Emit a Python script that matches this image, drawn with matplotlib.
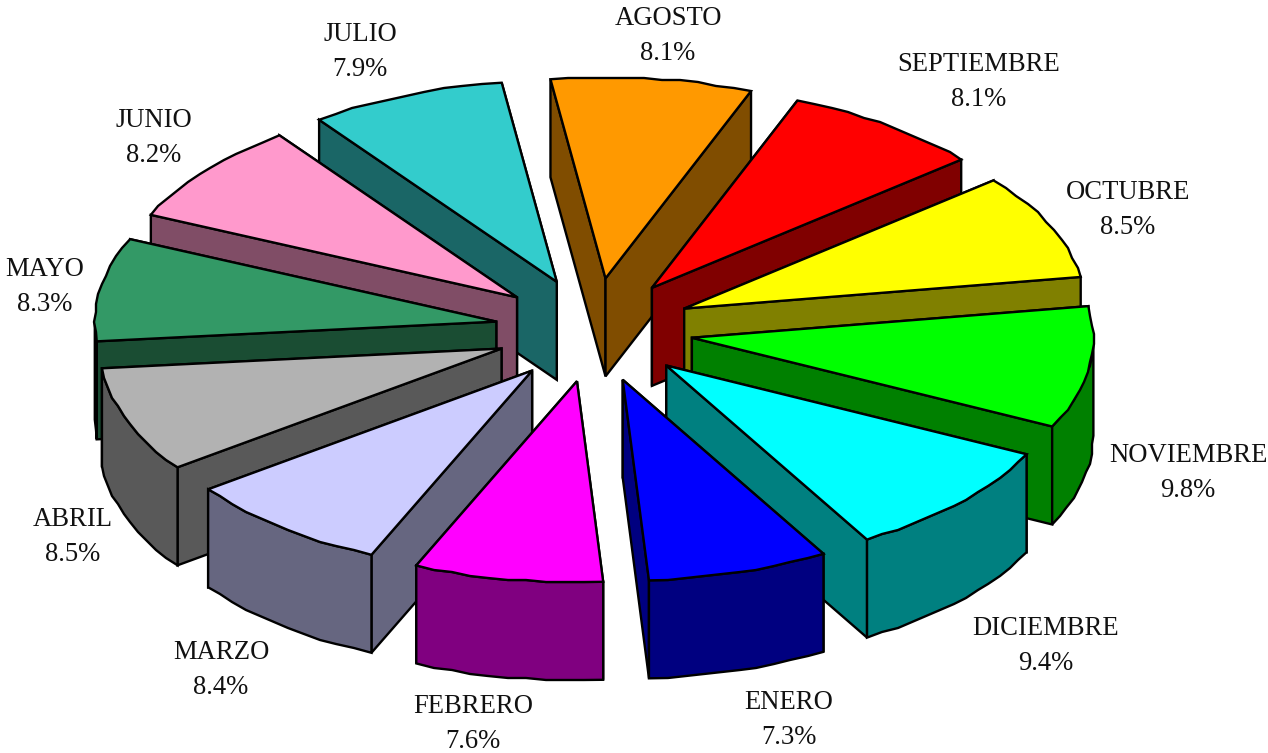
import numpy as np
import matplotlib
matplotlib.use("Agg")
import matplotlib.pyplot as plt
from matplotlib.patches import Polygon

months = ["ENERO", "FEBRERO", "MARZO", "ABRIL", "MAYO", "JUNIO", "JULIO",
          "AGOSTO", "SEPTIEMBRE", "OCTUBRE", "NOVIEMBRE", "DICIEMBRE"]
shares = [7.3, 7.6, 8.4, 8.5, 8.3, 8.2, 7.9, 8.1, 8.1, 8.5, 9.8, 9.4]
top_colors = ["#0000FF", "#FF00FF", "#CCCCFF", "#B2B2B2", "#339966", "#FF99CC",
              "#33CCCC", "#FF9900", "#FF0000", "#FFFF00", "#00FF00", "#00FFFF"]
side_colors = ["#000080", "#800080", "#666680", "#595959", "#1A4D33", "#804D66",
               "#1A6666", "#804D00", "#800000", "#808000", "#008000", "#008080"]
label_x = [789, 473, 221, 73, 44.5, 154, 360, 668, 979, 1128, 1188, 1046]
label_y = [709, 713, 659, 526, 276, 127, 41, 25, 71, 199, 462, 635]
LINE_GAP = 35

CX, CY = 594, 330
RX, RY = 401.5, 201
EX, EY = 99, 52
DEPTH = 98
START = 150.0
GRID = 2.0


def pt(deg, ax_x, ax_y):
    a = np.radians(deg)
    return ax_x * np.sin(a), -ax_y * np.cos(a)


def arc(apex, a0, a1, step=2.6):
    n = max(int((a1 - a0) / step), 1)
    angs = np.linspace(a0, a1, n + 1)
    xs, ys = pt(angs, RX, RY)
    xs = xs + apex[0]
    ys = ys + apex[1]
    # the reference arcs are slightly stepped: snap the inner vertices to a coarse raster
    xs[1:-1] = np.round(xs[1:-1] / GRID) * GRID
    ys[1:-1] = np.round(ys[1:-1] / GRID) * GRID
    return np.column_stack([xs, ys])


fig = plt.figure(figsize=(12.68, 7.53), dpi=100)
ax = fig.add_axes([0, 0, 1, 1])
ax.set_xlim(0, 1268)
ax.set_ylim(753, 0)
ax.axis("off")

sweeps = np.array(shares) / np.sum(shares) * 360
starts = (START + np.concatenate([[0], np.cumsum(sweeps)[:-1]])) % 360
ends = starts + sweeps
mids = (starts + ends) / 2
order = np.argsort(-np.cos(np.radians(mids)))
down = np.array([0, DEPTH])
style = dict(edgecolor="black", linewidth=1.7, joinstyle="miter")

for z, i in enumerate(order):
    dx, dy = pt(mids[i], EX, EY)
    apex = np.array([CX + dx, CY + dy])
    outline = arc(apex, starts[i], ends[i])
    # the wall running further back goes first, so the nearer one hides it
    for p in sorted((outline[0], outline[-1]), key=lambda q: q[1]):
        ax.add_patch(Polygon([apex, p, p + down, apex + down], closed=True,
                             facecolor=side_colors[i], zorder=z, **style))
    # the outer wall exists only where the rim faces the viewer
    lo = max(starts[i], 90)
    hi = min(ends[i], 270)
    if lo < hi:
        rim = arc(apex, lo, hi)
        wall = np.vstack([rim, (rim + down)[::-1]])
        ax.add_patch(Polygon(wall, closed=True, facecolor=side_colors[i], zorder=z, **style))
    ax.add_patch(Polygon(np.vstack([apex, outline]), closed=True,
                         facecolor=top_colors[i], zorder=z, **style))

text_style = dict(ha="center", va="baseline", family="Liberation Serif",
                  fontsize=19.2, color="#111111", zorder=50)
for name, share, x, y in zip(months, shares, label_x, label_y):
    ax.text(x, y, name, **text_style)
    ax.text(x, y + LINE_GAP, f"{share:.1f}%", **text_style)

fig.savefig("out.png", dpi=100, facecolor="white")
